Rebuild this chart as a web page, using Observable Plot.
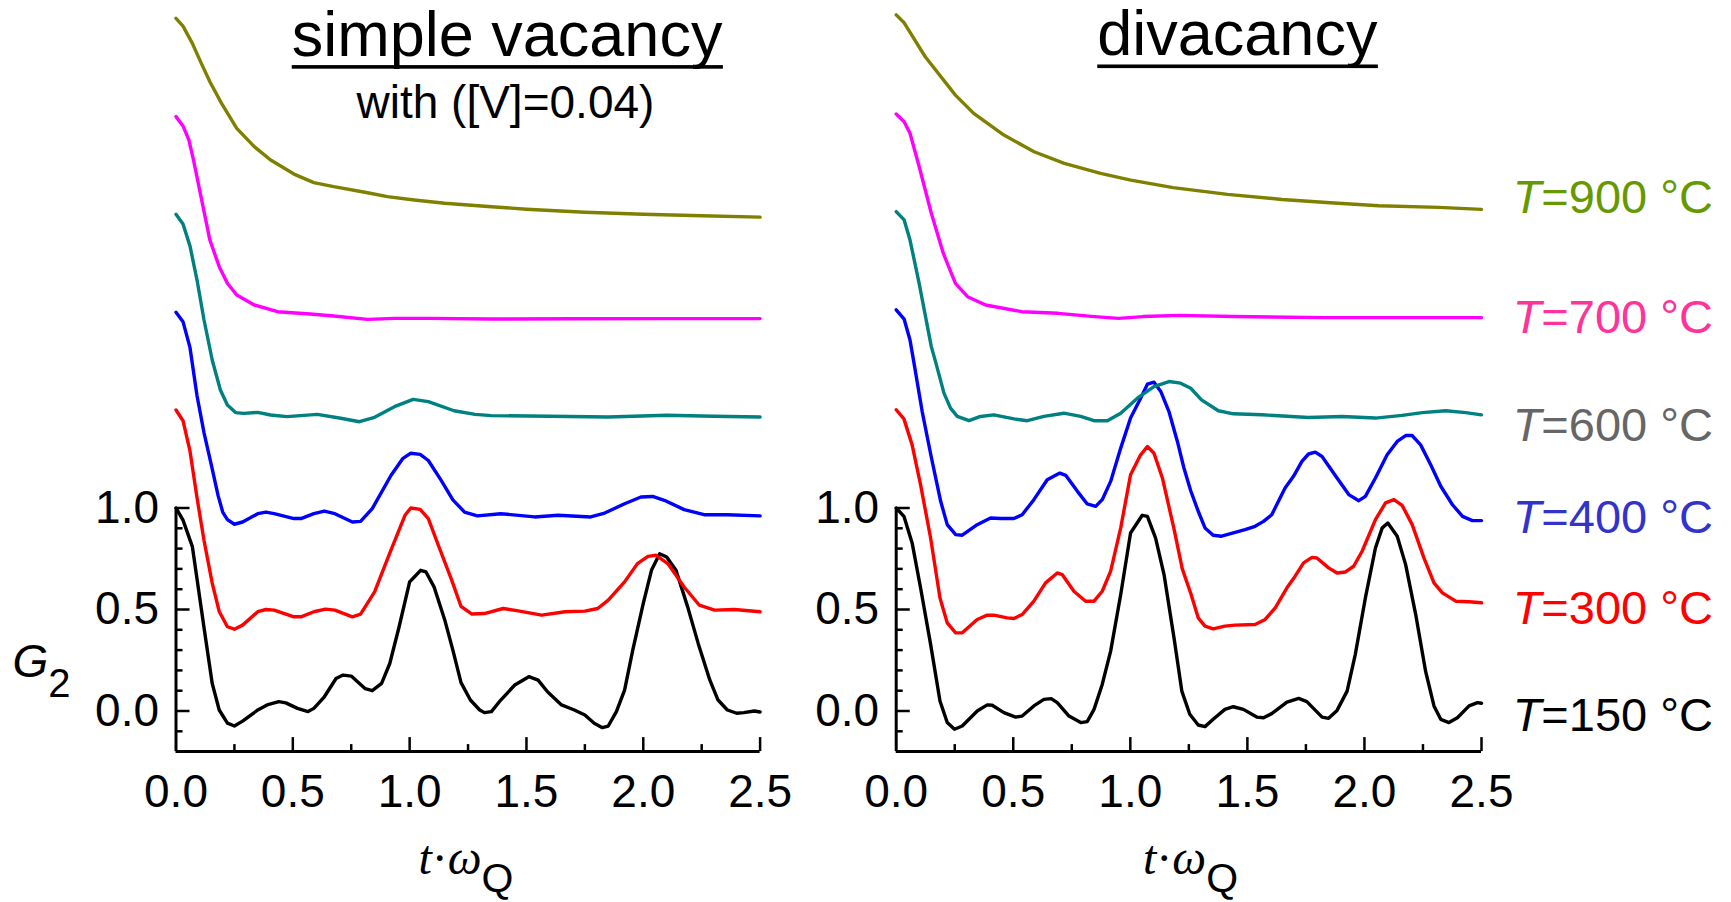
<!DOCTYPE html>
<html><head><meta charset="utf-8">
<script src="https://cdn.jsdelivr.net/npm/d3@7"></script>
<script src="https://cdn.jsdelivr.net/npm/@observablehq/plot@0.6"></script>
<style>
html,body{margin:0;padding:0;background:#fff;}
#fig{display:flex;width:1731px;height:902px;overflow:hidden;}
#fig svg{flex:none;}
</style></head><body><div id="fig"></div>
<script>
// ---- data: plotted G2 curves (values include the vertical stacking offset) ----
// simple vacancy panel
const sv150 = [[0,1.0],[0.03,0.94],[0.07,0.81],[0.12,0.41],[0.155,0.136],[0.185,0.005],[0.22,-0.06],[0.25,-0.074],[0.285,-0.05],[0.35,0.005],[0.39,0.03],[0.44,0.046],[0.47,0.04],[0.52,0.013],[0.565,-0.003],[0.59,0.013],[0.635,0.07],[0.685,0.16],[0.715,0.177],[0.75,0.172],[0.81,0.11],[0.84,0.10],[0.88,0.136],[0.915,0.234],[0.955,0.415],[1.0,0.636],[1.02,0.66],[1.047,0.693],[1.07,0.685],[1.105,0.61],[1.15,0.45],[1.185,0.3],[1.22,0.14],[1.26,0.054],[1.3,0.005],[1.32,-0.008],[1.35,-0.003],[1.39,0.054],[1.45,0.128],[1.51,0.169],[1.55,0.152],[1.59,0.095],[1.65,0.03],[1.705,0.005],[1.75,-0.02],[1.79,-0.06],[1.825,-0.082],[1.85,-0.074],[1.885,-0.003],[1.92,0.103],[1.955,0.3],[2.0,0.53],[2.035,0.693],[2.07,0.775],[2.1,0.759],[2.14,0.693],[2.19,0.513],[2.235,0.333],[2.285,0.152],[2.32,0.054],[2.36,0.005],[2.4,-0.011],[2.43,-0.008],[2.475,0],[2.5,-0.005]];
const sv300 = [[0,1.483],[0.03,1.43],[0.06,1.28],[0.09,1.05],[0.12,0.84],[0.155,0.63],[0.185,0.49],[0.22,0.415],[0.25,0.403],[0.285,0.423],[0.35,0.489],[0.385,0.5],[0.42,0.497],[0.505,0.464],[0.535,0.464],[0.59,0.489],[0.64,0.502],[0.68,0.497],[0.755,0.464],[0.79,0.477],[0.85,0.587],[0.92,0.792],[0.98,0.964],[1.005,1.0],[1.045,0.993],[1.08,0.948],[1.12,0.825],[1.18,0.645],[1.22,0.515],[1.265,0.478],[1.32,0.48],[1.4,0.505],[1.465,0.493],[1.565,0.472],[1.665,0.489],[1.75,0.492],[1.805,0.505],[1.85,0.546],[1.92,0.636],[1.975,0.726],[2.02,0.762],[2.055,0.767],[2.105,0.726],[2.175,0.611],[2.24,0.521],[2.305,0.497],[2.39,0.5],[2.5,0.489]];
const sv400 = [[0,1.964],[0.03,1.918],[0.06,1.79],[0.09,1.553],[0.12,1.37],[0.15,1.218],[0.18,1.062],[0.2,0.98],[0.22,0.943],[0.25,0.92],[0.285,0.931],[0.35,0.972],[0.385,0.98],[0.42,0.972],[0.505,0.948],[0.535,0.948],[0.59,0.972],[0.635,0.985],[0.68,0.972],[0.755,0.931],[0.79,0.934],[0.84,0.997],[0.92,1.16],[0.97,1.243],[1.005,1.27],[1.045,1.264],[1.08,1.234],[1.135,1.136],[1.185,1.04],[1.235,0.98],[1.29,0.961],[1.39,0.972],[1.535,0.956],[1.635,0.964],[1.775,0.956],[1.835,0.975],[1.92,1.021],[1.99,1.054],[2.04,1.057],[2.09,1.038],[2.175,0.992],[2.26,0.967],[2.36,0.967],[2.5,0.961]];
const sv600 = [[0,2.447],[0.03,2.399],[0.06,2.29],[0.09,2.123],[0.12,1.926],[0.155,1.729],[0.19,1.581],[0.22,1.507],[0.255,1.47],[0.29,1.466],[0.35,1.471],[0.405,1.458],[0.475,1.45],[0.605,1.461],[0.705,1.442],[0.785,1.425],[0.85,1.447],[0.935,1.499],[1.015,1.535],[1.08,1.524],[1.19,1.479],[1.28,1.461],[1.35,1.455],[1.6,1.452],[1.85,1.448],[2.1,1.457],[2.3,1.452],[2.5,1.448]];
const sv700 = [[0,2.928],[0.03,2.882],[0.055,2.813],[0.075,2.714],[0.11,2.517],[0.145,2.32],[0.185,2.189],[0.22,2.107],[0.26,2.049],[0.335,2.0],[0.435,1.967],[0.575,1.956],[0.675,1.946],[0.82,1.929],[0.935,1.934],[1.08,1.934],[1.35,1.931],[1.7,1.932],[2.1,1.933],[2.5,1.933]];
const sv900 = [[0,3.412],[0.03,3.374],[0.07,3.289],[0.105,3.199],[0.145,3.10],[0.195,2.993],[0.26,2.87],[0.335,2.78],[0.405,2.714],[0.505,2.645],[0.59,2.603],[0.675,2.583],[0.82,2.553],[0.905,2.534],[1.02,2.517],[1.15,2.501],[1.35,2.484],[1.5,2.472],[1.75,2.457],[2.0,2.447],[2.25,2.44],[2.5,2.433]];
// divacancy panel
const dv150 = [[0,1.0],[0.033,0.959],[0.068,0.828],[0.104,0.607],[0.147,0.328],[0.187,0.049],[0.218,-0.057],[0.249,-0.09],[0.282,-0.074],[0.346,0],[0.389,0.03],[0.41,0.028],[0.46,-0.008],[0.51,-0.03],[0.538,-0.025],[0.588,0.025],[0.631,0.057],[0.662,0.061],[0.688,0.041],[0.738,-0.025],[0.788,-0.057],[0.816,-0.052],[0.845,0.008],[0.88,0.131],[0.916,0.295],[0.959,0.574],[1.001,0.877],[1.051,0.964],[1.073,0.959],[1.108,0.852],[1.144,0.672],[1.188,0.35],[1.22,0.098],[1.254,-0.016],[1.29,-0.069],[1.319,-0.077],[1.354,-0.041],[1.404,0.008],[1.44,0.021],[1.483,0.008],[1.54,-0.03],[1.569,-0.033],[1.604,-0.013],[1.669,0.044],[1.719,0.062],[1.754,0.046],[1.819,-0.03],[1.847,-0.036],[1.883,0.003],[1.926,0.098],[1.961,0.279],[2.004,0.557],[2.047,0.803],[2.076,0.902],[2.1,0.926],[2.14,0.861],[2.176,0.721],[2.219,0.475],[2.261,0.197],[2.297,0.025],[2.326,-0.041],[2.361,-0.057],[2.397,-0.033],[2.447,0.025],[2.483,0.041],[2.5,0.038]];
const dv300 = [[0,1.484],[0.033,1.439],[0.068,1.311],[0.104,1.115],[0.147,0.852],[0.187,0.557],[0.218,0.434],[0.254,0.385],[0.282,0.385],[0.346,0.451],[0.389,0.472],[0.417,0.472],[0.474,0.459],[0.503,0.456],[0.538,0.475],[0.588,0.541],[0.638,0.631],[0.688,0.68],[0.709,0.672],[0.759,0.59],[0.809,0.541],[0.845,0.541],[0.88,0.59],[0.916,0.689],[0.959,0.902],[1.001,1.164],[1.044,1.262],[1.073,1.303],[1.101,1.27],[1.137,1.148],[1.187,0.895],[1.222,0.70],[1.258,0.58],[1.29,0.459],[1.319,0.418],[1.354,0.405],[1.404,0.418],[1.447,0.423],[1.533,0.426],[1.576,0.451],[1.619,0.508],[1.669,0.607],[1.704,0.664],[1.74,0.73],[1.776,0.757],[1.797,0.754],[1.847,0.705],[1.883,0.68],[1.919,0.685],[1.954,0.713],[1.99,0.787],[2.047,0.943],[2.09,1.025],[2.126,1.041],[2.161,1.013],[2.204,0.918],[2.254,0.754],[2.297,0.631],[2.333,0.582],[2.39,0.541],[2.447,0.538],[2.5,0.533]];
const dv400 = [[0,1.976],[0.034,1.93],[0.059,1.828],[0.075,1.721],[0.111,1.475],[0.15,1.25],[0.19,1.033],[0.218,0.918],[0.254,0.869],[0.282,0.866],[0.346,0.918],[0.403,0.951],[0.446,0.948],[0.503,0.948],[0.538,0.967],[0.588,1.041],[0.645,1.139],[0.699,1.172],[0.724,1.161],[0.774,1.082],[0.816,1.02],[0.852,1.008],[0.88,1.041],[0.916,1.131],[0.959,1.295],[1.001,1.443],[1.044,1.541],[1.073,1.61],[1.101,1.62],[1.13,1.574],[1.165,1.475],[1.201,1.328],[1.229,1.197],[1.258,1.085],[1.29,0.984],[1.319,0.902],[1.354,0.866],[1.39,0.861],[1.44,0.877],[1.49,0.893],[1.533,0.91],[1.569,0.934],[1.604,0.967],[1.661,1.098],[1.697,1.156],[1.733,1.23],[1.761,1.266],[1.79,1.275],[1.819,1.254],[1.883,1.148],[1.933,1.066],[1.976,1.036],[2.004,1.057],[2.047,1.148],[2.097,1.262],[2.14,1.328],[2.176,1.357],[2.204,1.357],[2.24,1.311],[2.283,1.213],[2.326,1.107],[2.376,1.016],[2.419,0.959],[2.461,0.938],[2.5,0.938]];
const dv600 = [[0,2.46],[0.034,2.419],[0.059,2.32],[0.098,2.107],[0.15,1.795],[0.168,1.721],[0.204,1.566],[0.232,1.492],[0.261,1.451],[0.311,1.43],[0.36,1.451],[0.417,1.459],[0.503,1.439],[0.56,1.43],[0.631,1.451],[0.716,1.467],[0.788,1.451],[0.845,1.43],[0.902,1.43],[0.959,1.467],[1.03,1.541],[1.101,1.598],[1.165,1.623],[1.215,1.615],[1.258,1.59],[1.304,1.533],[1.376,1.479],[1.44,1.464],[1.561,1.459],[1.761,1.446],[1.904,1.451],[2.047,1.443],[2.161,1.456],[2.247,1.47],[2.347,1.479],[2.433,1.47],[2.5,1.459]];
const dv700 = [[0,2.941],[0.034,2.903],[0.059,2.846],[0.098,2.682],[0.15,2.452],[0.201,2.255],[0.253,2.107],[0.305,2.041],[0.382,2.0],[0.537,1.967],[0.692,1.959],[0.847,1.943],[0.95,1.934],[1.054,1.943],[1.209,1.949],[1.441,1.943],[1.829,1.938],[2.5,1.938]];
const dv900 = [[0,3.429],[0.034,3.39],[0.124,3.223],[0.253,3.034],[0.331,2.944],[0.46,2.837],[0.589,2.755],[0.718,2.698],[0.873,2.648],[1.002,2.615],[1.183,2.578],[1.415,2.545],[1.648,2.52],[1.854,2.504],[2.061,2.489],[2.319,2.481],[2.5,2.471]];

const temps = [150, 300, 400, 600, 700, 900];
const leftSeries = [sv150, sv300, sv400, sv600, sv700, sv900];
const rightSeries = [dv150, dv300, dv400, dv600, dv700, dv900];
const labelTexts = ["T=150 °C", "T=300 °C", "T=400 °C", "T=600 °C", "T=700 °C", "T=900 °C"];
const labelY = [-0.022, 0.502, 0.953, 1.406, 1.938, 2.525];

const xTicks = [0, 0.5, 1, 1.5, 2, 2.5];
const xMinor = [0.25, 0.75, 1.25, 1.75, 2.25];
const yTicks = [0, 0.5, 1];
const yMinor = [-0.1, 0.1, 0.2, 0.3, 0.4, 0.6, 0.7, 0.8, 0.9];

// ---- styles ----
const lineColors = ["#000000", "#ff0000", "#0000ff", "#008080", "#ff00ff", "#808000"];
const labelColors = ["#000000", "#ff0000", "#3333cc", "#666666", "#ff3399", "#669900"];
const FONT = "'Liberation Sans', Arial, sans-serif";
const SERIF = "'Liberation Serif', 'Times New Roman', serif";

function axisMarks() {
  const bottom = -0.2;
  return [
    Plot.ruleY([bottom], {x1: 0, x2: 2.5, strokeWidth: 3}),
    Plot.ruleX([0], {y1: bottom, y2: 1.0, strokeWidth: 3}),
    Plot.ruleX(xTicks.slice(1), {x: d => d, y1: bottom, y2: bottom + 0.069, strokeWidth: 2.5}),
    Plot.ruleX(xMinor, {x: d => d, y1: bottom, y2: bottom + 0.0345, strokeWidth: 2.5}),
    Plot.ruleY(yTicks, {y: d => d, x1: 0, x2: 0.06, strokeWidth: 2.5}),
    Plot.ruleY(yMinor, {y: d => d, x1: 0, x2: 0.03, strokeWidth: 2.5})
  ];
}

function curveMarks(series) {
  return series.map((pts, i) => Plot.line(pts, {x: d => d[0], y: d => d[1], stroke: lineColors[i], strokeWidth: 3.4, strokeLinejoin: "round"}));
}

function makePanel({width, marginLeft, marginRight, series, extras}) {
  return Plot.plot({
    width, height: 902,
    marginLeft, marginRight, marginTop: 0, marginBottom: 150.9,
    style: {fontFamily: FONT, fontSize: "46px", background: "transparent", overflow: "visible", color: "#000"},
    x: {domain: [0, 2.5], ticks: xTicks, tickFormat: d3.format(".1f"), tickSize: 0, tickPadding: 23, label: null},
    y: {domain: [-0.2, 3.5], ticks: yTicks, tickFormat: d3.format(".1f"), tickSize: 0, tickPadding: 17, label: null},
    marks: [...axisMarks(), ...curveMarks(series), ...extras]
  });
}

const xLabel = "t·ωQ";
const left = makePanel({
  width: 800, marginLeft: 175.5, marginRight: 40.4, series: leftSeries,
  extras: [
    Plot.text(["simple vacancy"], {x: 1.417, y: 3.327, text: d => d, fontSize: 63}),
    Plot.text(["with ([V]=0.04)"], {x: 1.41, y: 2.993, text: d => d, fontSize: 46}),
    Plot.text(["G2"], {x: -0.70, y: 0.238, text: d => d, fontSize: 46, textAnchor: "start"}),
    Plot.text([xLabel], {x: 1.241, y: -0.728, text: d => d, fontSize: 48})
  ]
});
const right = makePanel({
  width: 931, marginLeft: 95.7, marginRight: 250, series: rightSeries,
  extras: [
    Plot.text(["divacancy"], {x: 1.457, y: 3.33, text: d => d, fontSize: 63}),
    Plot.text([xLabel], {x: 1.257, y: -0.728, text: d => d, fontSize: 48}),
    ...labelTexts.map((t, i) => Plot.text([t], {x: 2.633, y: labelY[i], text: d => d, fill: labelColors[i], fontSize: 47, textAnchor: "start"}))
  ]
});

function enrich(svg) {
  d3.select(svg).selectAll("text").each(function () {
    const s = this.textContent;
    const el = d3.select(this);
    if (s === "G2") {
      el.text("");
      el.append("tspan").attr("font-style", "italic").text("G");
      el.append("tspan").attr("font-size", "40px").attr("dy", "20").text("2");
    } else if (s === xLabel) {
      el.text("");
      el.append("tspan").attr("font-family", SERIF).attr("font-style", "italic").text("t");
      el.append("tspan").attr("font-family", SERIF).text("·");
      el.append("tspan").attr("font-family", SERIF).attr("font-style", "italic").text("ω");
      el.append("tspan").attr("font-size", "41px").attr("dy", "18").text("Q");
    } else if (s.startsWith("T=")) {
      el.text("");
      el.append("tspan").attr("font-style", "italic").text("T");
      el.append("tspan").text(s.slice(1));
    }
  });
}
// underline the panel titles below their descenders, as in the figure
function underline(svg) {
  d3.select(svg).selectAll("text").each(function () {
    const s = this.textContent;
    if (s !== "simple vacancy" && s !== "divacancy") return;
    const fs = parseFloat(getComputedStyle(this).fontSize);
    const bb = this.getBBox();
    const baseline = bb.y + 0.905 * fs;
    const r = document.createElementNS("http://www.w3.org/2000/svg", "rect");
    r.setAttribute("x", bb.x);
    r.setAttribute("width", bb.width);
    r.setAttribute("y", baseline + 9.3);
    r.setAttribute("height", 3.6);
    r.setAttribute("fill", "#000");
    const tr = this.getAttribute("transform");
    if (tr) r.setAttribute("transform", tr);
    this.parentNode.appendChild(r);
  });
}
enrich(left);
enrich(right);
const fig = document.getElementById("fig");
fig.append(left, right);
underline(left);
underline(right);
</script></body></html>
